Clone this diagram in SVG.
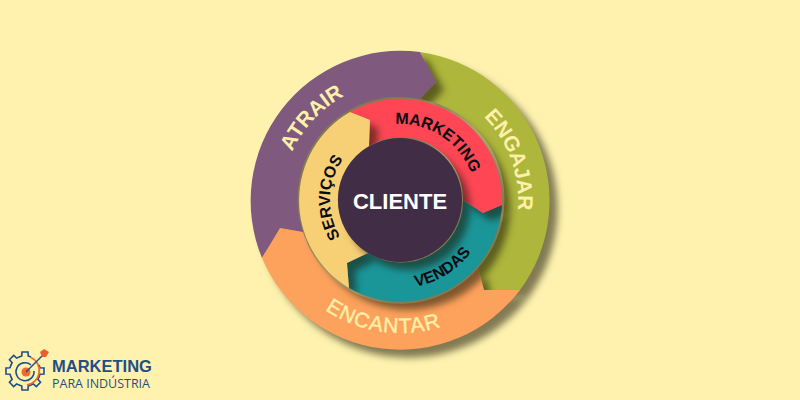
<svg xmlns="http://www.w3.org/2000/svg" width="800" height="400" viewBox="0 0 800 400">
<style>
text{font-family:"Liberation Sans",Arial,sans-serif}
.o{font-size:21px;fill:#fdf0a8;stroke:#fdf0a8;stroke-width:.4px;text-anchor:middle;letter-spacing:1px}
.b{font-weight:700;stroke:none;letter-spacing:0}
.i{font-size:16px;fill:#0b0b12;font-weight:700;text-anchor:middle}
.s{filter:url(#sh)}
.l{fill:none;stroke:#1f4f85;stroke-width:1.6}
</style>
<defs>
<filter id="sh" x="-20%" y="-20%" width="150%" height="150%" color-interpolation-filters="sRGB"><feGaussianBlur in="SourceAlpha" stdDeviation="3.500"/><feOffset dx="8" dy="8" result="o"/><feFlood flood-color="#1c1808" flood-opacity=".55"/><feComposite in2="o" operator="in"/><feMerge><feMergeNode/><feMergeNode in="SourceGraphic"/></feMerge></filter>
<path id="t118" d="M282 200A118 118 0 0 1 518 200"/>
<path id="b133" d="M267 200A133 133 0 0 0 533 200"/>
<path id="t76" d="M324 200A76 76 0 0 1 476 200"/>
<path id="t70" d="M330 200A70 70 0 0 1 470 200"/>
<path id="b88" d="M312 200A88 88 0 0 0 488 200"/>
<path id="tooth" class="l" d="M-6 -14L-3.200 -15L-3 -19L3 -19L3.200 -15L6 -14"/>
</defs>
<rect id="background" width="800" height="400" fill="#fef2ae"/>
<g id="connectors"/>
<g id="engajar"><path class="s" fill="#aeb63b" d="M420 52A150 150 0 0 1 520 290L484 290L478 268A102 102 0 0 0 420 99L436 82Z"/>
<text class="o b" transform="rotate(70 400 200)"><textPath href="#t118" startOffset="50%">ENGAJAR</textPath></text></g>
<g id="atrair"><path class="s" fill="#7f5a7e" d="M262 258A150 150 0 0 1 420 52L436 82L420 99A102 102 0 0 0 303 232L280 228Z"/>
<text class="o b" transform="rotate(-47 400 200)"><textPath href="#t118" startOffset="50%">ATRAIR</textPath></text></g>
<g id="encantar"><path class="s" fill="#fda25c" d="M520 290A150 150 0 0 1 262 258L280 228L303 232A102 102 0 0 0 478 268L484 290Z"/>
<text class="o" transform="rotate(8 400 200)"><textPath href="#b133" startOffset="50%">ENCANTAR</textPath></text></g>
<g id="vendas"><path class="s" fill="#1a9699" d="M502 205A102 102 0 0 1 349 288L347 263L368 253A62 62 0 0 0 463 200L483 213Z"/>
<text class="i" transform="rotate(-32 400 200)"><textPath href="#b88" startOffset="50%">VENDAS</textPath></text></g>
<g id="marketing"><path class="s" fill="#fe4655" d="M350 112A102 102 0 0 1 502 205L483 213L463 200A62 62 0 0 0 369 146L370 120Z"/>
<text class="i" transform="rotate(33 400 200)"><textPath href="#t76" startOffset="50%">MARKETING</textPath></text></g>
<g id="servicos"><path class="s" fill="#f7cf75" d="M349 288A102 102 0 0 1 350 112L370 120L369 146A62 62 0 0 0 368 253L347 263Z"/>
<text class="i" transform="rotate(-88 400 200)"><textPath href="#t70" startOffset="50%">SERVIÇOS</textPath></text></g>
<g id="cliente"><circle class="s" cx="400" cy="200" r="62" fill="#422d46"/>
<text x="400" y="209" text-anchor="middle" font-size="22" font-weight="700" fill="#fff">CLIENTE</text></g>
<g id="logo">
<g transform="translate(25 371)">
<use href="#tooth"/><use href="#tooth" transform="rotate(90)"/><use href="#tooth" transform="rotate(135)"/><use href="#tooth" transform="rotate(180)"/><use href="#tooth" transform="rotate(225)"/><use href="#tooth" transform="rotate(270)"/><use href="#tooth" transform="rotate(315)"/>
</g>
<path d="M31 357.500A14.500 14.500 0 0 1 27 385" fill="none" stroke="#ef6a2b" stroke-width="1.800"/>
<path d="M31 365A9 9 0 1 0 34 371" fill="none" stroke="#1f4f85" stroke-width="1.600"/>
<circle cx="26" cy="372" r="4.500" fill="#ef6a2b"/>
<path d="M26 372L42 356" stroke="#1f4f85" stroke-width="1.500"/>
<path d="M40 352L44 349L49 352L46 357L42 357Z" fill="#e8612c"/>
<text x="52" y="372" font-size="16.500" font-weight="700" fill="#1f4f85">MARKETING</text>
<text x="52" y="387.500" font-size="12.500" fill="#1f4f85" textLength="98" style="font-family:'Open Sans',sans-serif">PARA INDÚSTRIA</text>
</g>
</svg>
